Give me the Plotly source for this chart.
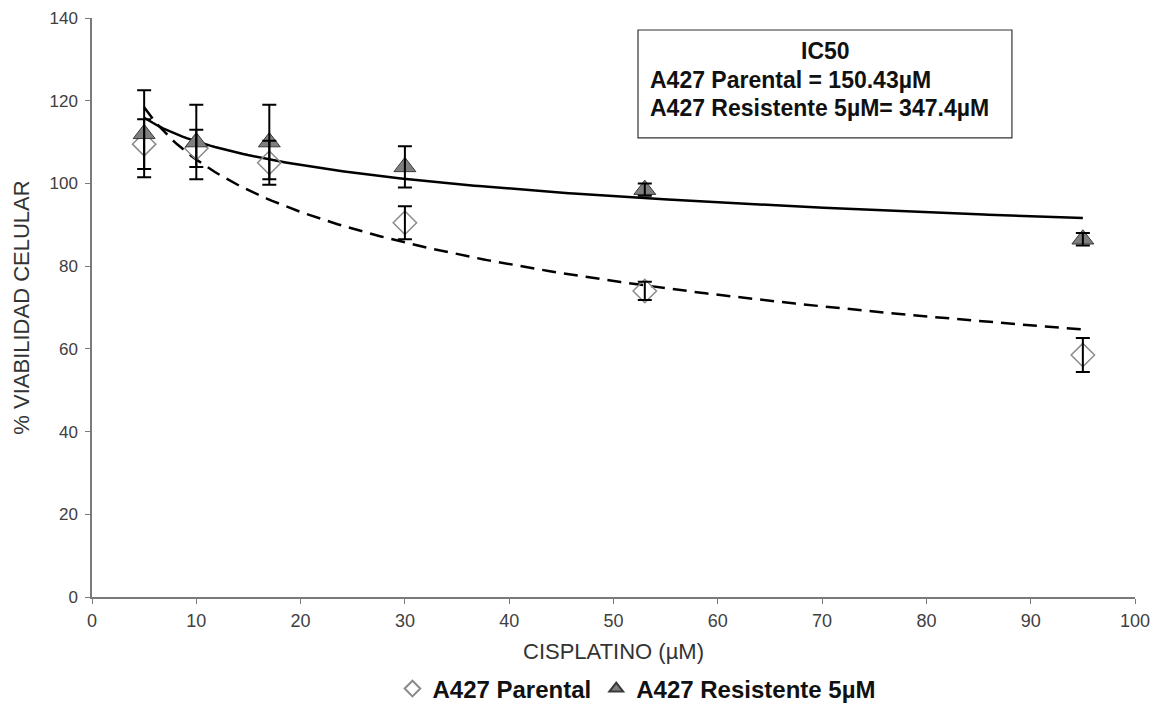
import numpy as np
import plotly.graph_objects as go

# Data
dose = [5, 10, 17, 30, 53, 95]
parental = [109.5, 108.5, 105.0, 90.5, 74.0, 58.5]
parental_err = [6.0, 4.5, 5.3, 4.0, 2.2, 4.1]
resist = [112.0, 110.0, 110.0, 104.0, 98.5, 86.5]
resist_err = [10.5, 9.0, 9.0, 5.0, 1.5, 1.5]

ic50_title = "IC50"
ic50_lines = ["A427 Parental = 150.43µM", "A427 Resistente 5µM= 347.4µM"]

# Logarithmic trend lines (least-squares fit y = a + b ln x)
lx = np.log(np.array(dose, dtype=float))
bp, ap = np.polyfit(lx, np.array(parental), 1)
br, ar = np.polyfit(lx, np.array(resist), 1)
xs = np.linspace(min(dose), max(dose), 200)

fig = go.Figure()

fig.add_trace(go.Scatter(x=xs, y=ap + bp * np.log(xs), mode="lines",
                         line=dict(color="black", width=2.5, dash="14px,8px"),
                         showlegend=False, hoverinfo="skip"))
fig.add_trace(go.Scatter(x=xs, y=ar + br * np.log(xs), mode="lines",
                         line=dict(color="black", width=2.5),
                         showlegend=False, hoverinfo="skip"))

fig.add_trace(go.Scatter(x=dose, y=parental, mode="markers", name="A427 Parental",
                         marker=dict(symbol="diamond-open", size=18, color="#8a8a8a",
                                     line=dict(width=1.5, color="#8a8a8a"))))
fig.add_trace(go.Scatter(x=dose, y=resist, mode="markers", name="A427 Resistente 5µM",
                         marker=dict(symbol="triangle-up", size=19, color="#7f7f7f",
                                     line=dict(width=1, color="#3a3a3a"))))

# error bars drawn on top
for ys, es in ((parental, parental_err), (resist, resist_err)):
    fig.add_trace(go.Scatter(x=dose, y=ys, mode="markers",
                             marker=dict(size=1, opacity=0),
                             error_y=dict(type="data", array=es, visible=True,
                                          color="black", thickness=2, width=7),
                             showlegend=False, hoverinfo="skip"))

box_font = dict(family="Liberation Sans, Arial", size=23, color="#111111")
fig.add_shape(type="rect", xref="x", yref="y", x0=52.35, x1=88.2, y0=111.0, y1=137.1,
              line=dict(color="#333333", width=1.2), fillcolor="white", layer="below")
fig.add_annotation(x=70.3, y=132.0, xref="x", yref="y", text="<b>" + ic50_title + "</b>",
                   showarrow=False, font=box_font)
fig.add_annotation(x=53.3, y=125.0, xref="x", yref="y", text="<b>" + ic50_lines[0] + "</b>",
                   showarrow=False, xanchor="left", font=box_font)
fig.add_annotation(x=53.3, y=118.2, xref="x", yref="y", text="<b>" + ic50_lines[1] + "</b>",
                   showarrow=False, xanchor="left", font=box_font)

xtick_font = dict(family="Liberation Sans, Arial", size=18, color="#404040")
ytick_font = dict(family="Liberation Sans, Arial", size=17, color="#404040")
title_font = dict(family="Liberation Sans, Arial", size=22, color="#333333")
fig.update_layout(
    width=1165, height=713,
    margin=dict(l=92, r=30, t=18, b=116, autoexpand=False),
    plot_bgcolor="white", paper_bgcolor="white",
    font=dict(family="Liberation Sans, Arial"),
    xaxis=dict(range=[0, 100], tickvals=list(range(0, 101, 10)), showgrid=False, zeroline=False,
               showline=True, linecolor="#7a7a7a", linewidth=1.5, ticks="outside", ticklen=5,
               tickcolor="#7a7a7a", tickfont=xtick_font, ticklabelstandoff=2, automargin=False,
               title=dict(text="CISPLATINO (µM)", font=title_font, standoff=13)),
    yaxis=dict(range=[0, 140], tickvals=list(range(0, 141, 20)), showgrid=False, zeroline=False,
               showline=True, linecolor="#7a7a7a", linewidth=1.5, ticks="outside", ticklen=5,
               tickcolor="#7a7a7a", tickfont=ytick_font, ticklabelstandoff=4, automargin=False,
               title=dict(text="% VIABILIDAD CELULAR", font=title_font, standoff=14)),
    legend=dict(orientation="h", x=0.5225, xanchor="center", y=-0.12, yanchor="top",
                font=dict(family="Liberation Sans, Arial", size=24, color="#111111", weight="bold"),
                itemsizing="constant", itemwidth=30, tracegroupgap=0),
)

fig.write_html("out.html")
